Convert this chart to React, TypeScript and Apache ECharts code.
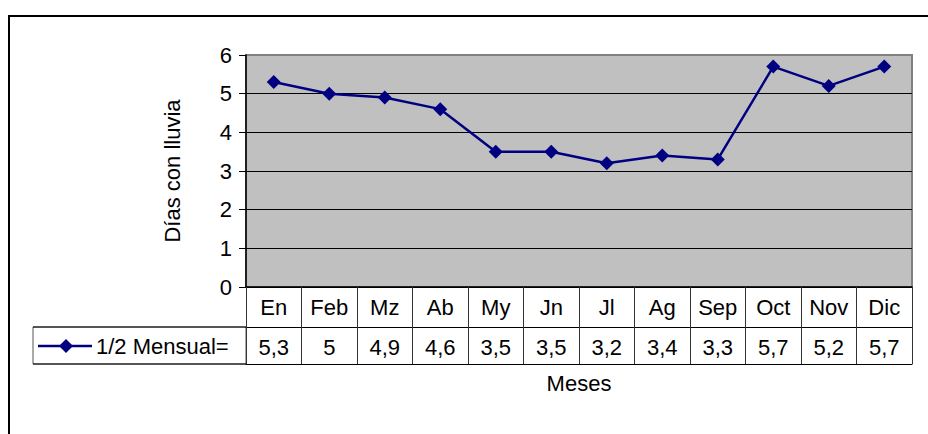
import React, { useEffect, useRef } from "react";
import * as echarts from "echarts";

const months = ["En", "Feb", "Mz", "Ab", "My", "Jn", "Jl", "Ag", "Sep", "Oct", "Nov", "Dic"];
const values = [5.3, 5, 4.9, 4.6, 3.5, 3.5, 3.2, 3.4, 3.3, 5.7, 5.2, 5.7];
const seriesName = "1/2 Mensual=";
const yTicks = [0, 1, 2, 3, 4, 5, 6];

const FONT = "Liberation Sans, Arial, sans-serif";
const FS = 22;

export default function App() {
  const ref = useRef<HTMLDivElement>(null);
  useEffect(() => {
    if (!ref.current) return;
    const chart = echarts.init(ref.current, null, { renderer: "svg" });
    const valueLabels = values.map((v) => String(v).replace(".", ","));
    chart.setOption({
      animation: false,
      backgroundColor: "#ffffff",
      textStyle: { fontFamily: FONT },
      grid: {
        left: 246,
        top: 55,
        right: 16,
        bottom: 147,
        show: true,
        backgroundColor: "#C0C0C0",
        borderColor: "#808080",
        borderWidth: 2,
      },
      xAxis: [
        {
          type: "category",
          data: months,
          boundaryGap: true,
          position: "bottom",
          axisLine: { show: true, lineStyle: { color: "#000", width: 1.5 } },
          axisTick: { show: true, length: 77, lineStyle: { color: "#333", width: 1 } },
          axisLabel: { color: "#000", fontSize: FS, fontFamily: FONT, margin: 9 },
          splitLine: { show: false },
        },
        {
          type: "category",
          data: valueLabels,
          boundaryGap: true,
          position: "bottom",
          offset: 40,
          axisLine: { show: true, lineStyle: { color: "#000", width: 1 } },
          axisTick: { show: false },
          axisLabel: { color: "#000", fontSize: FS, fontFamily: FONT, margin: 9 },
        },
        {
          type: "category",
          data: months,
          boundaryGap: true,
          position: "bottom",
          offset: 77,
          axisLine: { show: true, lineStyle: { color: "#000", width: 1 } },
          axisTick: { show: false },
          axisLabel: { show: false },
          name: "Meses",
          nameLocation: "middle",
          nameGap: 8,
          nameTextStyle: { color: "#000", fontSize: FS, fontFamily: FONT, verticalAlign: "top" },
        },
      ],
      yAxis: {
        type: "value",
        min: 0,
        max: 6,
        interval: 1,
        name: "Días con lluvia",
        nameLocation: "middle",
        nameGap: 63,
        nameRotate: 90,
        nameTextStyle: { color: "#000", fontSize: FS, fontFamily: FONT },
        axisLine: { show: true, lineStyle: { color: "#000", width: 1.5 } },
        axisTick: { show: true, length: 7, lineStyle: { color: "#000" } },
        axisLabel: { color: "#000", fontSize: FS, fontFamily: FONT, margin: 14 },
        splitLine: {
          show: true,
          lineStyle: {
            color: yTicks.map((t) => (t === 6 ? "#808080" : "#000")),
            width: 1,
          },
        },
      },
      series: [
        {
          name: seriesName,
          type: "line",
          data: values,
          xAxisIndex: 0,
          symbol: "diamond",
          symbolSize: 14,
          lineStyle: { color: "#000080", width: 2.5 },
          itemStyle: { color: "#000080" },
        },
      ],
      graphic: [
        {
          type: "rect",
          shape: { x: 9, y: 16, width: 940, height: 440 },
          style: { fill: "none", stroke: "#000", lineWidth: 2 },
          silent: true,
        },
        {
          type: "rect",
          shape: { x: 33, y: 327, width: 213, height: 37 },
          style: { fill: "#fff", stroke: "#555", lineWidth: 1 },
          silent: true,
        },
        {
          type: "line",
          shape: { x1: 33, y1: 327, x2: 246, y2: 327 },
          style: { stroke: "#000", lineWidth: 1 },
        },
        {
          type: "line",
          shape: { x1: 33, y1: 364, x2: 246, y2: 364 },
          style: { stroke: "#000", lineWidth: 1 },
        },
        {
          type: "line",
          shape: { x1: 38, y1: 346, x2: 92, y2: 346 },
          style: { stroke: "#000080", lineWidth: 2.5 },
        },
        {
          type: "polygon",
          shape: { points: [[66, 339], [73, 346], [66, 353], [59, 346]] },
          style: { fill: "#000080" },
        },
        {
          type: "text",
          x: 96,
          y: 346,
          style: {
            text: seriesName,
            font: FS + "px " + FONT,
            fill: "#000",
            verticalAlign: "middle",
          },
        },
      ],
    });
    return () => chart.dispose();
  }, []);
  return (
    <div
      ref={ref}
      style={{ position: "absolute", left: 0, top: 0, width: 928, height: 434 }}
    />
  );
}
